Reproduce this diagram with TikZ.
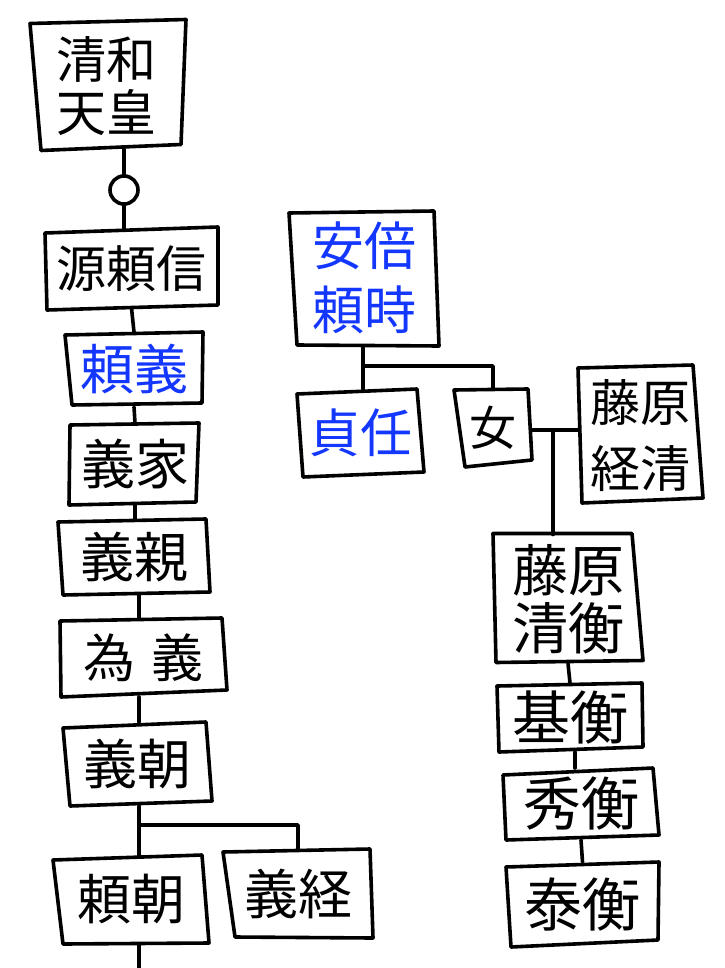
\documentclass[tikz,border=0pt]{standalone}
\usepackage{fontspec}
\setmainfont{Noto Sans CJK JP}
\usetikzlibrary{calc}
\definecolor{pblue}{RGB}{20,55,255}
\tikzset{
  edge/.style={line width=3.6pt, line cap=round, line join=round, black},
  nb/.style={inner sep=0pt, outer sep=0pt, align=center, font=\fontsize{54}{60}\selectfont},
  nbs/.style={inner sep=0pt, outer sep=0pt, align=center, font=\fontsize{#1}{#1}\selectfont},
  nbt/.style 2 args={inner sep=0pt, outer sep=0pt, align=center, font=\fontsize{#1}{#2}\selectfont},
  bl/.style={text=pblue},
}
\newcommand\qb[5]{\draw[edge] ($(#1.north west)+(#2)$) -- ($(#1.north east)+(#3)$) -- ($(#1.south east)+(#4)$) -- ($(#1.south west)+(#5)$) -- cycle;}
\begin{document}
\begin{tikzpicture}[x=1pt,y=-1pt]
\useasboundingbox (0,0) rectangle (724,968);
% Minamoto line
\node[nbt={50}{53}, minimum width=156pt, minimum height=127pt] (seiwa) at (106,86) {清和\\天皇};
\node[circle, draw, line width=3.6pt, minimum size=28pt, inner sep=0pt, outer sep=0pt] (c0) at (124,190) {};
\node[nbs=50, minimum width=173pt, minimum height=78pt] (yorinobu) at (131.5,269) {源頼信};
\node[nb, bl, minimum width=138pt, minimum height=75pt] (yoriyoshi) at (134,369.5) {頼義};
\node[nb, minimum width=130pt, minimum height=82pt] (yoshiie) at (135,464) {義家};
\node[nb, minimum width=152pt, minimum height=76pt] (yoshichika) at (134,557) {義親};
\node[nbs=52, minimum width=167pt, minimum height=79pt] (tameyoshi) at (143.5,657.5) {為\hspace{16pt}義};
\node[nb, minimum width=149pt, minimum height=84pt] (yoshitomo) at (137.5,764) {義朝};
\node[nb, minimum width=156pt, minimum height=89pt] (yoritomo) at (131,899.5) {頼朝};
\node[nb, minimum width=150pt, minimum height=89pt] (yoshitsune) at (298,893.5) {義経};
% Abe
\node[nbt={52}{64}, bl, minimum width=150pt, minimum height=140pt] (abe) at (364,278) {安倍\\頼時};
\node[nbs=52, bl, minimum width=127pt, minimum height=88pt] (sadato) at (360.5,433) {貞任};
\node[nbs=47, minimum width=78pt, minimum height=78pt] (onna) at (493,428) {女};
% Fujiwara
\node[nbt={50}{66}, minimum width=125pt, minimum height=138pt] (tsunekiyo) at (640.5,436) {藤原\\経清};
\node[nbt={56}{58}, minimum width=150pt, minimum height=129pt] (kiyohira) at (568,599) {藤原\\清衡};
\node[nbs=58, minimum width=146pt, minimum height=69pt] (motohira) at (570,717.5) {基衡};
\node[nbs=58, minimum width=156pt, minimum height=72pt] (hidehira) at (581,804) {秀衡};
\node[nbs=58, minimum width=153pt, minimum height=85pt] (yasuhira) at (582.5,904.5) {泰衡};
% outlines
\qb{seiwa}{2,1}{2,-3}{-3,-5}{13,1}
\qb{yorinobu}{0,3}{0,-3}{0,-3}{2,2}
\qb{yoriyoshi}{0,3}{0,0}{-1,-4}{7,-2}
\qb{yoshiie}{0,2}{-1,0}{-4,-3}{-1,0}
\qb{yoshichika}{0,3}{-4,0}{0,-3}{5,0}
\qb{tameyoshi}{0,3}{-5,0}{0,-7}{1,0}
\qb{yoshitomo}{0,6}{-6,0}{0,-5}{7,0}
\qb{yoritomo}{0,5}{-7,0}{0,-1}{10,0}
\qb{yoshitsune}{0,3}{-3,0}{0,0}{12,-1}
\qb{abe}{0,5}{-5,3}{0,-2}{8,-3}
\qb{sadato}{0,5}{-7,0}{0,-5}{6,0}
\qb{onna}{0,1}{-4,0}{0,-7}{11,0}
\qb{tsunekiyo}{0,1}{-10,-2}{0,-7}{4,-2}
\qb{kiyohira}{0,-1}{-11,-1}{0,-3}{3,-1}
\qb{motohira}{0,3}{-1,0}{0,-5}{2,0}
\qb{hidehira}{0,7}{-6,0}{0,-5}{3,0}
\qb{yasuhira}{0,5}{0,0}{-1,-7}{5,0}
% connectors
\coordinate (sp) at (135,0);
\coordinate (sp2) at (139,0);
\coordinate (fp) at (575,0);
\draw[edge] (seiwa.south -| c0) -- (c0.north);
\draw[edge] (c0.south) -- (c0.south |- yorinobu.north);
\draw[edge] (yorinobu.south) -- (yoriyoshi.north);
\draw[edge] (yoriyoshi.south) -- (yoshiie.north);
\draw[edge] (yoshiie.south -| sp) -- (yoshichika.north -| sp);
\draw[edge] (yoshichika.south -| sp2) -- (tameyoshi.north -| sp2);
\draw[edge] (tameyoshi.south -| sp2) -- (yoshitomo.north -| sp2);
\coordinate (bj) at (139,825);
\draw[edge] (yoshitomo.south -| bj) -- (bj) -- (yoritomo.north -| bj);
\draw[edge] (bj) -| (yoshitsune.north);
\coordinate (bot) at (139,970);
\draw[edge] (yoritomo.south -| bot) -- (bot);
\coordinate (aj) at (363,366);
\draw[edge] (abe.south -| aj) -- (aj) -- (sadato.north -| aj);
\draw[edge] (aj) -| (onna.north);
\coordinate (mj) at (553,430);
\draw[edge] (onna.east |- mj) -- (tsunekiyo.west |- mj);
\draw[edge] (mj) -- (kiyohira.north -| mj);
\draw[edge] (kiyohira.south) -- (motohira.north);
\draw[edge] (motohira.south -| fp) -- (hidehira.north -| fp);
\draw[edge] (hidehira.south) -- (yasuhira.north);
\end{tikzpicture}
\end{document}
